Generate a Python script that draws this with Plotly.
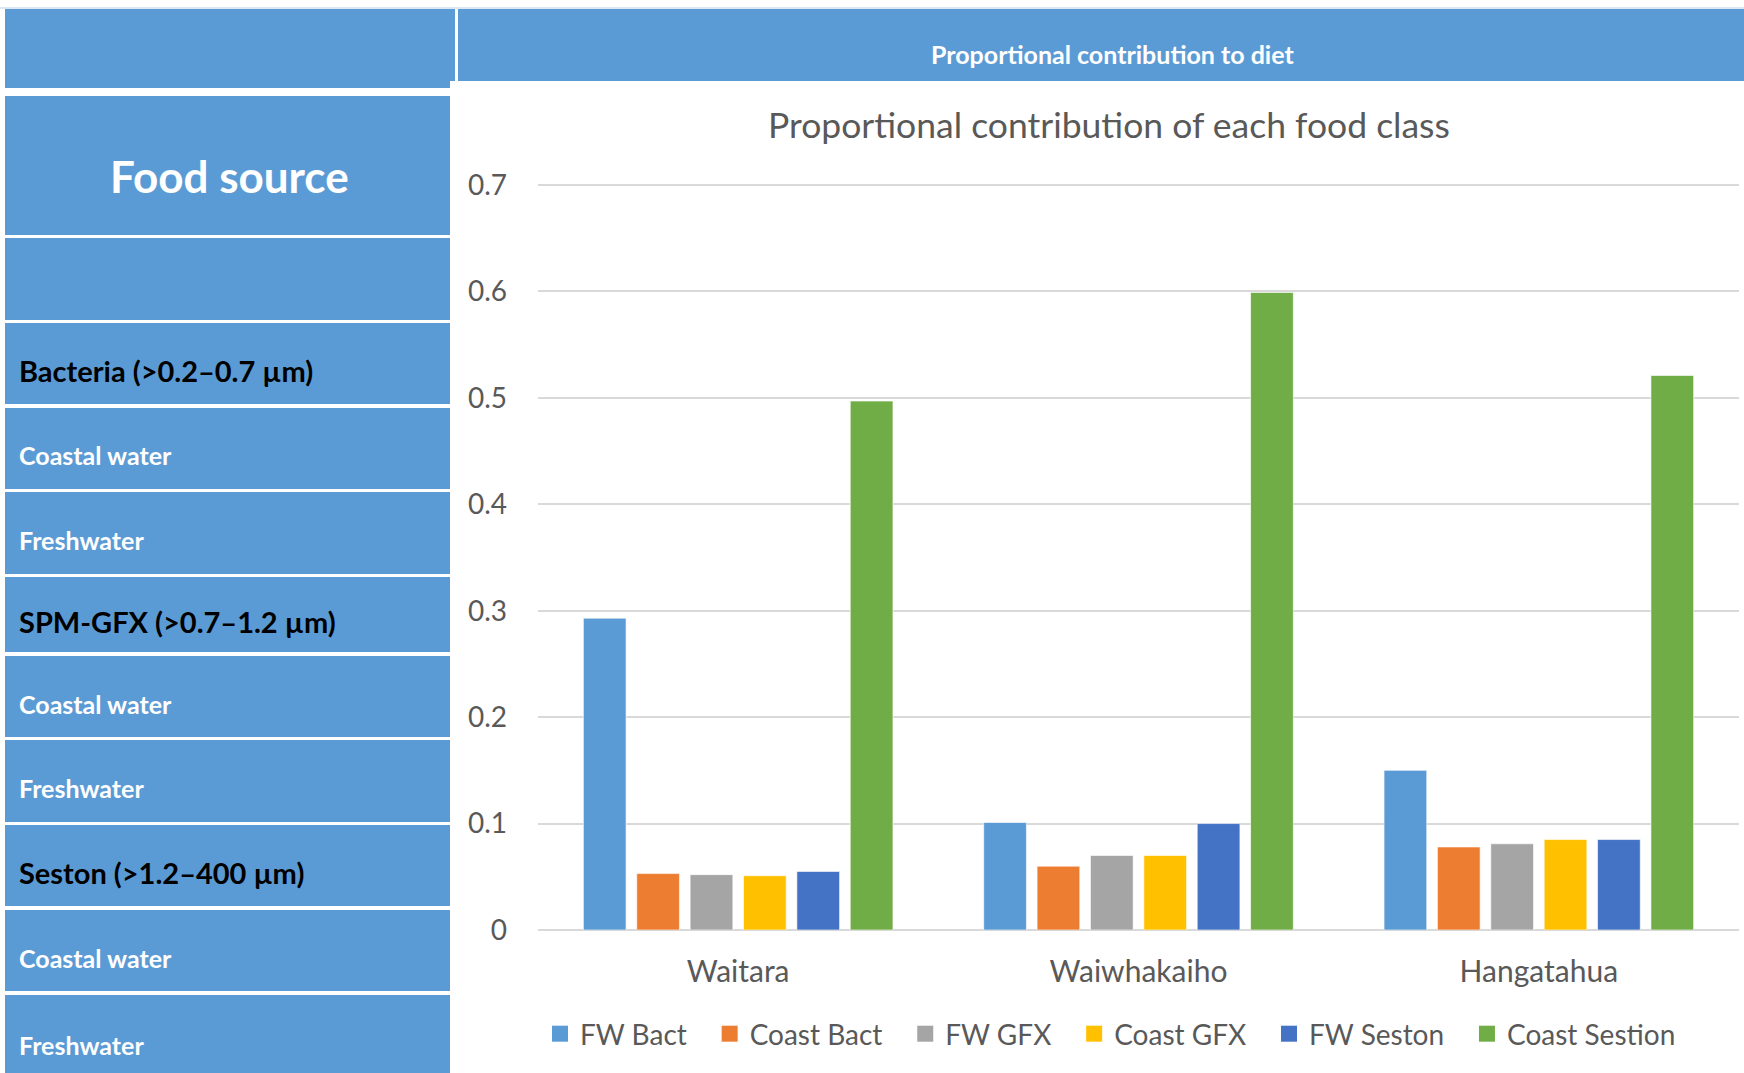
import plotly.graph_objects as go

# ---- data -------------------------------------------------------------
sites = ["Waitara", "Waiwhakaiho", "Hangatahua"]

fw_bact = [0.293, 0.101, 0.150]
coast_bact = [0.053, 0.060, 0.078]
fw_gfx = [0.052, 0.070, 0.081]
coast_gfx = [0.051, 0.070, 0.085]
fw_seston = [0.055, 0.100, 0.085]
coast_sestion = [0.497, 0.599, 0.521]

series_names = ["FW Bact", "Coast Bact", "FW GFX", "Coast GFX", "FW Seston", "Coast Sestion"]
series_values = [fw_bact, coast_bact, fw_gfx, coast_gfx, fw_seston, coast_sestion]
series_colors = ["#5B9BD5", "#ED7D31", "#A5A5A5", "#FFC000", "#4472C4", "#70AD47"]

y_ticks = [0, 0.1, 0.2, 0.3, 0.4, 0.5, 0.6, 0.7]

# left-hand table rows: (text, text colour, font size)
table_rows = [
    ("", "white", 20),
    ("Food source", "white", 44),
    ("", "white", 20),
    ("Bacteria (>0.2–0.7 µm)", "black", 29),
    ("Coastal water", "white", 25),
    ("Freshwater", "white", 25),
    ("SPM-GFX (>0.7–1.2 µm)", "black", 29),
    ("Coastal water", "white", 25),
    ("Freshwater", "white", 25),
    ("Seston (>1.2–400 µm)", "black", 29),
    ("Coastal water", "white", 25),
    ("Freshwater", "white", 25),
]
header_text = "Proportional contribution to diet"
chart_title = "Proportional contribution of each food class"

# ---- geometry (pixels) -------------------------------------------------
W, H = 1744, 1073
CELL = "#5B9BD5"
GREY_TXT = "#595959"
FONT = "Lato"
LEGEND_PAD = "\u00a0\u00a0\u2009"   # extra room between legend entries

# vertical extents of the table cells (top, bottom)
row_bounds = [(9, 88), (96, 235), (238, 320), (323, 404), (408, 489), (492, 574),
              (577, 652), (656, 737), (740, 822), (825, 906), (910, 991), (995, 1080)]

Y_TOP = 0.702          # a hair above 0.7 so the top gridline is drawn
PX_PER_UNIT = (930 - 185) / 0.7


def px(x):
    return x / W


def py(y):
    return 1 - y / H


fig = go.Figure()

for name, vals, col in zip(series_names, series_values, series_colors):
    fig.add_trace(go.Bar(
        name=name, x=sites, y=vals, legendgroup=name, showlegend=False,
        marker=dict(color=col, line=dict(color="rgba(255,255,255,0.6)", width=1)),
    ))
    # legend entry with a larger square swatch, tied to the bar trace
    fig.add_trace(go.Scatter(
        name=name + LEGEND_PAD, x=[None], y=[None], mode="markers", legendgroup=name,
        marker=dict(symbol="square", size=16, color=col, line=dict(width=0)),
        hoverinfo="skip",
    ))

shapes = []
annotations = []

# faint rule along the top edge of the table
shapes.append(dict(type="line", xref="paper", yref="paper",
                   x0=px(0), x1=1, y0=py(8), y1=py(8),
                   line=dict(color="#CFE0F1", width=1.5), layer="below"))

# left column cells
for i, ((top, bot), (txt, colr, size)) in enumerate(zip(row_bounds, table_rows)):
    shapes.append(dict(type="rect", xref="paper", yref="paper",
                       x0=px(5), x1=px(450), y0=py(bot), y1=py(top),
                       fillcolor=CELL, line=dict(width=0), layer="below"))
    if i == 0:
        # the header cell is slightly wider over its upper part
        shapes.append(dict(type="rect", xref="paper", yref="paper",
                           x0=px(5), x1=px(455), y0=py(81), y1=py(top),
                           fillcolor=CELL, line=dict(width=0), layer="below"))
    if not txt:
        continue
    if i == 1:
        annotations.append(dict(text=f"<b>{txt}</b>", xref="paper", yref="paper",
                                x=px(230), y=py(176), xanchor="center", yanchor="middle",
                                showarrow=False, font=dict(family=FONT, size=size, color=colr)))
    else:
        yc = (top + bot) / 2 + 7
        annotations.append(dict(text=f"<b>{txt}</b>", xref="paper", yref="paper",
                                x=px(17), y=py(yc), xanchor="left", yanchor="middle",
                                showarrow=False, font=dict(family=FONT, size=size, color=colr)))

# header band over the chart
shapes.append(dict(type="rect", xref="paper", yref="paper",
                   x0=px(458), x1=1, y0=py(81), y1=py(9),
                   fillcolor=CELL, line=dict(width=0), layer="below"))
annotations.append(dict(text=f"<b>{header_text}</b>", xref="paper", yref="paper",
                        x=px(1112), y=py(54), xanchor="center", yanchor="middle",
                        showarrow=False, font=dict(family=FONT, size=25, color="white")))

# chart title
annotations.append(dict(text=chart_title, xref="paper", yref="paper",
                        x=px(1109), y=py(125), xanchor="center", yanchor="middle",
                        showarrow=False, font=dict(family=FONT, size=35.5, color=GREY_TXT)))

fig.update_layout(
    width=W, height=H,
    margin=dict(l=0, r=0, t=0, b=0, autoexpand=False),
    paper_bgcolor="white", plot_bgcolor="white",
    barmode="group", bargap=0.2, bargroupgap=0.2,
    shapes=shapes, annotations=annotations,
    font=dict(family=FONT, color=GREY_TXT),
    showlegend=True,
    legend=dict(orientation="h", x=px(540), xanchor="left", y=py(1034), yanchor="middle",
                font=dict(family=FONT, size=28, color=GREY_TXT),
                itemwidth=30, traceorder="normal", bgcolor="rgba(0,0,0,0)"),
    xaxis=dict(domain=[px(538), px(1739)], showgrid=False, showline=False,
               ticks="", tickfont=dict(family=FONT, size=30, color=GREY_TXT),
               ticklabelstandoff=21),
    yaxis=dict(domain=[py(930), py(185 - (Y_TOP - 0.7) * PX_PER_UNIT)], range=[0, Y_TOP],
               tickvals=y_ticks, ticktext=[f"{v:g}" for v in y_ticks],
               showgrid=True, gridcolor="#D9D9D9", gridwidth=1.6,
               zeroline=True, zerolinecolor="#D9D9D9", zerolinewidth=2,
               showline=False, ticks="",
               tickfont=dict(family=FONT, size=28, color=GREY_TXT),
               ticklabelstandoff=30),
)

fig.write_html("out.html")
